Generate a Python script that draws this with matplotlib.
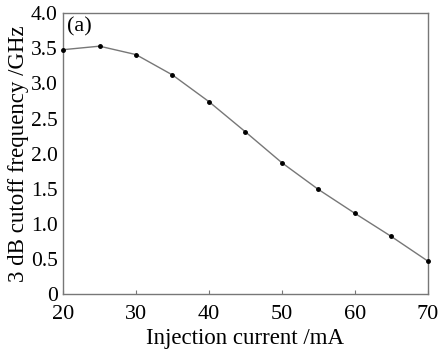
import matplotlib.pyplot as plt

plt.rcParams["font.family"] = ["Liberation Serif", "DejaVu Serif"]

current = [20, 25, 30, 35, 40, 45, 50, 55, 60, 65, 70]
cutoff = [3.48, 3.53, 3.41, 3.12, 2.74, 2.31, 1.87, 1.49, 1.15, 0.82, 0.47]
yticks = [0, 0.5, 1.0, 1.5, 2.0, 2.5, 3.0, 3.5, 4.0]
ytick_labels = ["0", "0.5", "1.0", "1.5", "2.0", "2.5", "3.0", "3.5", "4.0"]

fig = plt.figure(figsize=(4.41, 3.56), dpi=100)
ax = fig.add_axes([0.143, 0.174, 0.827, 0.789])

ax.plot(current, cutoff, color="#777777", lw=1.0, marker="o", ms=2.5,
        mfc="black", mec="black", clip_on=False, zorder=3)

ax.set_xlim(20, 70)
ax.set_ylim(0, 4.0)
ax.set_xticks([20, 30, 40, 50, 60, 70])
ax.set_yticks(yticks)
ax.set_yticklabels(ytick_labels)
ax.tick_params(direction="in", length=3, colors="#777777", labelcolor="black",
               labelsize=16)
ax.tick_params(axis="x", pad=8)
ax.tick_params(axis="y", length=0, pad=4, labelsize=15.5)
for s in ax.spines.values():
    s.set_color("#777777")
    s.set_linewidth(1.0)

ax.set_xlabel("Injection current /mA", fontsize=16.5, labelpad=3)
ax.set_ylabel("3 dB cutoff frequency /GHz", fontsize=16.5, labelpad=1)
ax.text(0.012, 0.985, "(a)", transform=ax.transAxes, fontsize=16,
        ha="left", va="top")

fig.savefig("out.png", dpi=100)
